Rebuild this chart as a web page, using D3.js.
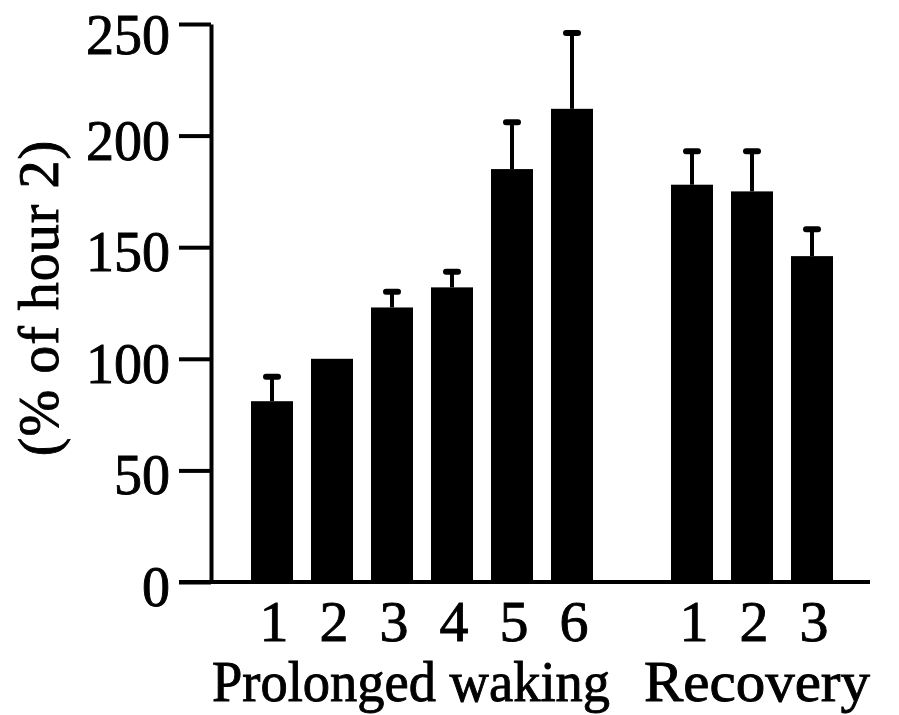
<!DOCTYPE html>
<html>
<head>
<meta charset="utf-8">
<script src="https://cdn.jsdelivr.net/npm/d3@7"></script>
<style>
  body { margin: 0; background: #ffffff; }
  text { font-family: "Liberation Serif", "DejaVu Serif", serif; fill: #000; stroke: #000; stroke-width: 0.9px; }
  .axis path, .axis line { stroke: #000; stroke-width: 4; }
</style>
</head>
<body>
<script>
// Hour labels and slots (an empty slot between the two groups)
var slots = ["w1", "w2", "w3", "w4", "w5", "w6", "gap", "r1", "r2", "r3"];
var hourLabels = ["1", "2", "3", "4", "5", "6", "", "1", "2", "3"];

// Values (% of hour 2) and error bars (SEM)
var wakingValues = [81, 100, 123, 132, 185, 212];
var wakingErrors = [11, 0, 7, 7, 21, 34];
var recoveryValues = [178, 175, 146];
var recoveryErrors = [15, 18, 12];

var yTicks = [0, 50, 100, 150, 200, 250];
var groupLabels = ["Prolonged waking", "Recovery"];

window.onload = function() {
  drawChart();
};

function drawChart() {
  var width = 899;
  var height = 715;

  var svg = d3.select("body")
              .append("svg")
              .attr("width", width)
              .attr("height", height);

  // Combine both groups into one list of bars
  var bars = [];
  for (var i = 0; i < wakingValues.length; i++) {
    bars.push({"slot": slots[i], "value": wakingValues[i], "err": wakingErrors[i]});
  }
  for (var j = 0; j < recoveryValues.length; j++) {
    bars.push({"slot": slots[j + 7], "value": recoveryValues[j], "err": recoveryErrors[j]});
  }

  // Scales
  var scaleX = d3.scaleBand()
                 .domain(slots)
                 .range([242, 842])
                 .paddingInner(0.3)
                 .paddingOuter(0.15);

  var scaleY = d3.scaleLinear()
                 .domain([0, 250])
                 .range([582, 24]);

  // Bars
  svg.selectAll("rect.bar")
     .data(bars)
     .enter()
     .append("rect")
     .attr("class", "bar")
     .attr("x", function(d) { return scaleX(d.slot); })
     .attr("y", function(d) { return scaleY(d.value); })
     .attr("width", scaleX.bandwidth())
     .attr("height", function(d) { return scaleY(0) - scaleY(d.value); })
     .attr("fill", "#000");

  // Error bars
  var errs = bars.filter(function(d) { return d.err > 0; });
  svg.selectAll("line.err")
     .data(errs)
     .enter()
     .append("line")
     .attr("class", "err")
     .attr("x1", function(d) { return scaleX(d.slot) + scaleX.bandwidth() / 2; })
     .attr("x2", function(d) { return scaleX(d.slot) + scaleX.bandwidth() / 2; })
     .attr("y1", function(d) { return scaleY(d.value); })
     .attr("y2", function(d) { return scaleY(d.value + d.err); })
     .attr("stroke", "#000")
     .attr("stroke-width", 4);

  svg.selectAll("line.cap")
     .data(errs)
     .enter()
     .append("line")
     .attr("class", "cap")
     .attr("x1", function(d) { return scaleX(d.slot) + scaleX.bandwidth() / 2 - 6; })
     .attr("x2", function(d) { return scaleX(d.slot) + scaleX.bandwidth() / 2 + 6; })
     .attr("y1", function(d) { return scaleY(d.value + d.err); })
     .attr("y2", function(d) { return scaleY(d.value + d.err); })
     .attr("stroke", "#000")
     .attr("stroke-width", 6)
     .attr("stroke-linecap", "round");

  // Y-axis
  var yAxis = d3.axisLeft(scaleY)
                .tickValues(yTicks)
                .tickSize(32)
                .tickPadding(9)
                .tickSizeOuter(0);
  var gy = svg.append("g")
              .attr("class", "axis")
              .attr("transform", "translate(211,0)")
              .call(yAxis);
  gy.selectAll("text")
    .style("font-size", "56px")
    .attr("dy", function(d) { return d == 250 ? "0.52em" : "0.42em"; });

  // X-axis line (runs from the tick start to the right end)
  svg.append("line")
     .attr("x1", 179)
     .attr("x2", 870)
     .attr("y1", scaleY(0))
     .attr("y2", scaleY(0))
     .attr("stroke", "#000")
     .attr("stroke-width", 4);

  // Hour labels
  svg.selectAll("text.hour")
     .data(slots)
     .enter()
     .append("text")
     .attr("class", "hour")
     .attr("x", function(d) { return scaleX(d) + scaleX.bandwidth() / 2 + 2; })
     .attr("y", 641)
     .attr("text-anchor", "middle")
     .style("font-size", "58px")
     .text(function(d, i) { return hourLabels[i]; });

  // Group labels
  var groupStarts = [212, 644];
  var groupWidths = [398, 226];
  svg.selectAll("text.group")
     .data(groupLabels)
     .enter()
     .append("text")
     .attr("class", "group")
     .attr("x", function(d, i) { return groupStarts[i]; })
     .attr("y", 701)
     .attr("textLength", function(d, i) { return groupWidths[i]; })
     .attr("lengthAdjust", "spacingAndGlyphs")
     .style("font-size", "56px")
     .text(function(d) { return d; });

  // Y label
  svg.append("text")
     .text("(% of hour 2)")
     .attr("text-anchor", "middle")
     .attr("letter-spacing", "1px")
     .style("font-size", "56px")
     .attr("transform", "translate(58,298) rotate(-90)");
}
</script>
</body>
</html>
